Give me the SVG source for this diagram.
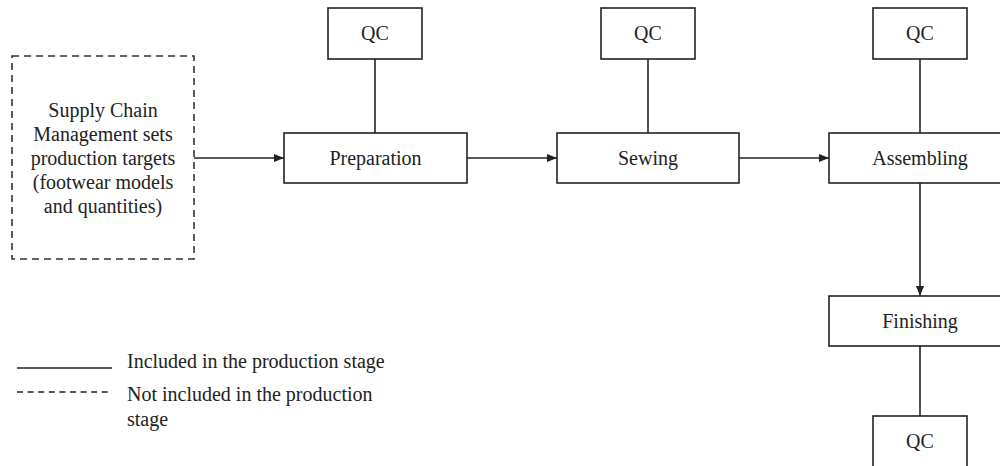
<svg xmlns="http://www.w3.org/2000/svg" width="1000" height="466" viewBox="0 0 1000 466">
<style>
.box{fill:#fff;stroke:#222;stroke-width:1.6}
.dash{fill:#fff;stroke:#333;stroke-width:1.6;stroke-dasharray:7 5}
.t{font-family:"Liberation Serif","Times New Roman",serif;font-size:20px;fill:#222}
.c{text-anchor:middle}
.ln{stroke:#222;stroke-width:1.6;fill:none}
</style>
<defs>
<marker id="ah" markerWidth="10" markerHeight="8" refX="10" refY="4" orient="auto" markerUnits="userSpaceOnUse">
<path d="M0,0 L10,4 L0,8 Z" fill="#222"/>
</marker>
</defs>
<rect width="1000" height="466" fill="#fff"/>
<g id="connectors">
<line class="ln" x1="194" y1="158" x2="284" y2="158" marker-end="url(#ah)"/>
<line class="ln" x1="467" y1="158" x2="557" y2="158" marker-end="url(#ah)"/>
<line class="ln" x1="739" y1="158" x2="829" y2="158" marker-end="url(#ah)"/>
<line class="ln" x1="920" y1="183" x2="920" y2="296" marker-end="url(#ah)"/>
<line class="ln" x1="375" y1="59" x2="375" y2="133"/>
<line class="ln" x1="648" y1="59" x2="648" y2="133"/>
<line class="ln" x1="920" y1="59" x2="920" y2="133"/>
<line class="ln" x1="920" y1="346" x2="920" y2="416"/>
</g>
<g id="scm">
<rect class="dash" x="12" y="56" width="182" height="203"/>
<text class="t c" x="103" y="117">Supply Chain</text>
<text class="t c" x="103" y="141">Management sets</text>
<text class="t c" x="103" y="165">production targets</text>
<text class="t c" x="103" y="189">(footwear models</text>
<text class="t c" x="103" y="213">and quantities)</text>
</g>
<g id="preparation">
<rect class="box" x="284" y="133" width="183" height="50"/>
<text class="t c" x="375.5" y="165">Preparation</text>
</g>
<g id="qc1">
<rect class="box" x="328" y="8" width="94" height="51"/>
<text class="t c" x="375" y="40">QC</text>
</g>
<g id="sewing">
<rect class="box" x="557" y="133" width="182" height="50"/>
<text class="t c" x="648" y="165">Sewing</text>
</g>
<g id="qc2">
<rect class="box" x="601" y="8" width="94" height="51"/>
<text class="t c" x="648" y="40">QC</text>
</g>
<g id="assembling">
<rect class="box" x="829" y="133" width="183" height="50"/>
<text class="t c" x="920" y="165">Assembling</text>
</g>
<g id="qc3">
<rect class="box" x="873" y="8" width="94" height="51"/>
<text class="t c" x="920" y="40">QC</text>
</g>
<g id="finishing">
<rect class="box" x="829" y="296" width="183" height="50"/>
<text class="t c" x="920" y="328">Finishing</text>
</g>
<g id="qc4">
<rect class="box" x="873" y="416" width="94" height="51"/>
<text class="t c" x="920" y="448">QC</text>
</g>
<g id="legend">
<line class="ln" x1="17" y1="368" x2="112" y2="368"/>
<text class="t" x="127" y="368">Included in the production stage</text>
<line class="ln" x1="17" y1="392" x2="112" y2="392" style="stroke-dasharray:6 4.6"/>
<text class="t" x="127" y="401">Not included in the production</text>
<text class="t" x="127" y="426">stage</text>
</g>
</svg>
